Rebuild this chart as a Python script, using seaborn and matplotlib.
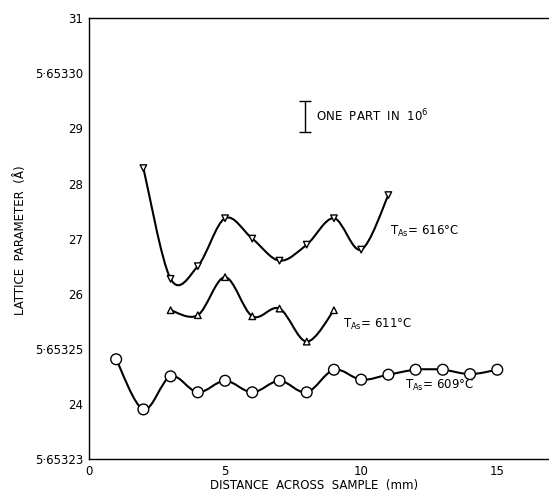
import numpy as np
import pandas as pd
import matplotlib
matplotlib.use("Agg")
import matplotlib.pyplot as plt
from matplotlib.path import Path
from matplotlib.patches import PathPatch
import seaborn as sns

# DATA (lattice parameter in units of 1e-5 A, tick 23 = 5.65323 A)

x_616 = [2, 3, 4, 5, 6, 7, 8, 9, 10, 11]
y_616 = [28.28, 26.27, 26.50, 27.37, 27.00, 26.60, 26.89, 27.37, 26.80, 27.79]

x_611 = [3, 4, 5, 6, 7, 8, 9]
y_611 = [25.70, 25.61, 26.30, 25.59, 25.73, 25.13, 25.70]

x_609 = [1, 2, 3, 4, 5, 6, 7, 8, 9, 10, 11, 12, 13, 14, 15]
y_609 = [24.81, 23.90, 24.50, 24.21, 24.42, 24.21, 24.42, 24.21,
         24.62, 24.44, 24.53, 24.62, 24.62, 24.54, 24.62]

y_ticks = [23, 24, 25, 26, 27, 28, 29, 30, 31]
y_tick_labels = ["5·65323", "24", "5·65325", "26", "27", "28", "29",
                 "5·65330", "31"]
x_ticks = [0, 5, 10, 15]
x_tick_labels = ["0", "5", "10", "15"]

series_labels = ["616", "611", "609"]

df = pd.concat([
    pd.DataFrame({"x": x_616, "y": y_616, "T": "616"}),
    pd.DataFrame({"x": x_611, "y": y_611, "T": "611"}),
    pd.DataFrame({"x": x_609, "y": y_609, "T": "609"}),
])


def smooth_path(xs, ys):
    # Catmull-Rom curve through the points, drawn as cubic Bezier pieces
    pts = np.column_stack([xs, ys]).astype(float)
    n = len(pts)
    verts = [pts[0]]
    codes = [Path.MOVETO]
    for i in range(n - 1):
        p0 = pts[max(i - 1, 0)]
        p1 = pts[i]
        p2 = pts[i + 1]
        p3 = pts[min(i + 2, n - 1)]
        c1 = p1 + (p2 - p0) / 6.0
        c2 = p2 - (p3 - p1) / 6.0
        verts += [c1, c2, p2]
        codes += [Path.CURVE4] * 3
    return Path(verts, codes)


sns.set_theme(style="white")
plt.rcParams["font.family"] = ["DejaVu Sans"]
plt.rcParams["text.color"] = "black"

fig = plt.figure(figsize=(5.49, 4.93), dpi=100)
ax = fig.add_axes([0.162, 0.069, 0.838, 0.894])

# smooth curves
for t in series_labels:
    d = df[df["T"] == t]
    ax.add_patch(PathPatch(smooth_path(d["x"], d["y"]), facecolor="none",
                           edgecolor="black", lw=1.5, zorder=2))

# open markers
sns.scatterplot(data=df, x="x", y="y", style="T", hue="T",
                markers={"616": "v", "611": "^", "609": "o"},
                palette={"616": "white", "611": "white", "609": "white"},
                edgecolor="black", linewidth=1.0, s=40, legend=False,
                ax=ax, zorder=3)
ax.collections[-1].set_sizes([22 if t != "609" else 60 for t in df["T"]])

ax.set_xlim(0, 16.9)
ax.set_ylim(23, 31)
ax.set_xticks(x_ticks)
ax.set_xticklabels(x_tick_labels)
ax.set_yticks(y_ticks)
ax.set_yticklabels(y_tick_labels)
ax.tick_params(direction="in", length=5, width=1, labelsize=8.5,
               colors="black", pad=4)
ax.set_xlabel("")
ax.set_ylabel("")

for side in ["left", "bottom", "top"]:
    ax.spines[side].set_visible(True)
    ax.spines[side].set_color("black")
    ax.spines[side].set_linewidth(1.0)
ax.spines["right"].set_visible(False)

# curve labels
ax.text(11.05, 27.13, r"$\mathregular{T_{As}}$= 616°C", fontsize=8.5,
        va="center", ha="left")
ax.text(9.35, 25.45, r"$\mathregular{T_{As}}$= 611°C", fontsize=8.5,
        va="center", ha="left")
ax.text(11.6, 24.33, r"$\mathregular{T_{As}}$= 609°C", fontsize=8.5,
        va="center", ha="left")

# scale bar: one part in 10^6
ax.errorbar([7.94], [29.22], yerr=[[0.28], [0.28]], fmt="none",
            ecolor="black", elinewidth=1, capsize=4)
ax.text(8.35, 29.22, r"ONE  PART  IN  10$^{\mathregular{6}}$",
        fontsize=8.5, va="center", ha="left")

fig.text(0.572, 0.016, "DISTANCE  ACROSS  SAMPLE  (mm)", fontsize=8.5,
         ha="center", va="center")
fig.text(0.037, 0.513, "LATTICE  PARAMETER  (Å)", fontsize=8.5,
         rotation=90, ha="center", va="center")

fig.savefig("out.png", dpi=100)
